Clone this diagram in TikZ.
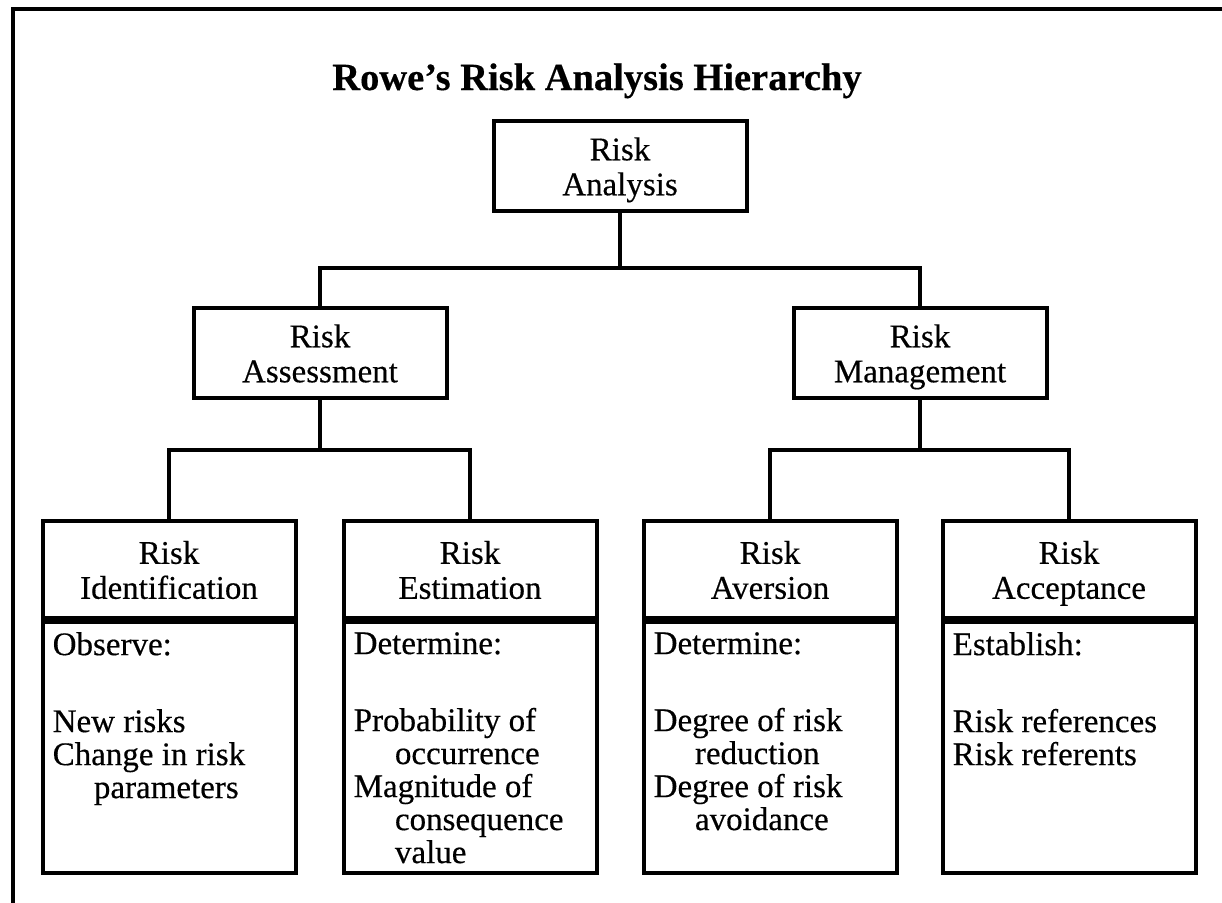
\documentclass[tikz,border=0pt]{standalone}
\usepackage{fontspec}
\setmainfont{Liberation Serif}[FakeBold=0.4]
\usetikzlibrary{positioning}

\newcommand{\bodyfont}{\fontsize{33}{35}\selectfont}
\newcommand{\listfont}{\fontsize{33}{33}\selectfont}
\newcommand{\titlefont}{\fontsize{38.5}{42}\selectfont\bfseries}

\tikzset{
  rule/.style={line width=4pt, line join=miter, line cap=rect},
  box/.style={draw, rule, rectangle, inner sep=0pt, minimum width=253pt,
              align=center, font=\bodyfont},
  headbox/.style={box, minimum height=97pt},
  bodybox/.style={box, minimum height=251pt},
  topbox/.style={box, minimum height=90pt},
  bodytext/.style={anchor=north west, align=left, inner sep=0pt, font=\listfont},
}

% two-line box label with fixed height and depth, so all labels sit alike
\newcommand{\twolines}[2]{\rule{0pt}{34pt}#1\\#2\strut}
\newcommand{\ind}{\hspace*{1.25em}}

\begin{document}
\begin{tikzpicture}[x=1pt, y=-1pt]
  \useasboundingbox (0,0) rectangle (1222,902);

  % page frame (top and left edges)
  \draw[rule] (13,902) -- (13,9) -- (1222,9);

  % title
  \node[font=\titlefont, anchor=base] (title) at (597,90) {Rowe's Risk Analysis Hierarchy};

  % upper levels
  \node[topbox] (ra) at (620,166) {\twolines{Risk}{Analysis}};
  \node[topbox] (as) at (320,353) {\twolines{Risk}{Assessment}};
  \node[topbox] (mg) at (920,353) {\twolines{Risk}{Management}};

  % lower level: heading part and description part of each box
  \node[headbox] (id) at (169,569.5) {\twolines{Risk}{Identification}};
  \node[headbox] (es) at (470,569.5) {\twolines{Risk}{Estimation}};
  \node[headbox] (av) at (770,569.5) {\twolines{Risk}{Aversion}};
  \node[headbox] (ac) at (1069,569.5) {\twolines{Risk}{Acceptance}};

  \node[bodybox, below=0pt of id] (idb) {};
  \node[bodybox, below=0pt of es] (esb) {};
  \node[bodybox, below=0pt of av] (avb) {};
  \node[bodybox, below=0pt of ac] (acb) {};

  \node[bodytext] (idt) at ([xshift=12pt,yshift=-12pt]idb.north west)
    {Observe:\\[44pt] New risks\\ Change in risk\\ \ind parameters};
  \node[bodytext] (est) at ([xshift=12pt,yshift=-12pt]esb.north west)
    {Determine:\\[44pt] Probability of\\ \ind occurrence\\ Magnitude of\\ \ind consequence\\ \ind value};
  \node[bodytext] (avt) at ([xshift=12pt,yshift=-12pt]avb.north west)
    {Determine:\\[44pt] Degree of risk\\ \ind reduction\\ Degree of risk\\ \ind avoidance};
  \node[bodytext] (act) at ([xshift=12pt,yshift=-12pt]acb.north west)
    {Establish:\\[44pt] Risk references\\ Risk referents};

  % connectors
  \coordinate (j0) at (620,268);
  \coordinate (j1) at (320,450);
  \coordinate (j2) at (920,450);

  \draw[rule] (ra.south) -- (ra.south |- j0);
  \draw[rule] (as.north) -- (as.north |- j0) -- (mg.north |- j0) -- (mg.north);

  \draw[rule] (as.south) -- (as.south |- j1);
  \draw[rule] (id.north) -- (id.north |- j1) -- (es.north |- j1) -- (es.north);

  \draw[rule] (mg.south) -- (mg.south |- j2);
  \draw[rule] (av.north) -- (av.north |- j2) -- (ac.north |- j2) -- (ac.north);
\end{tikzpicture}
\end{document}
